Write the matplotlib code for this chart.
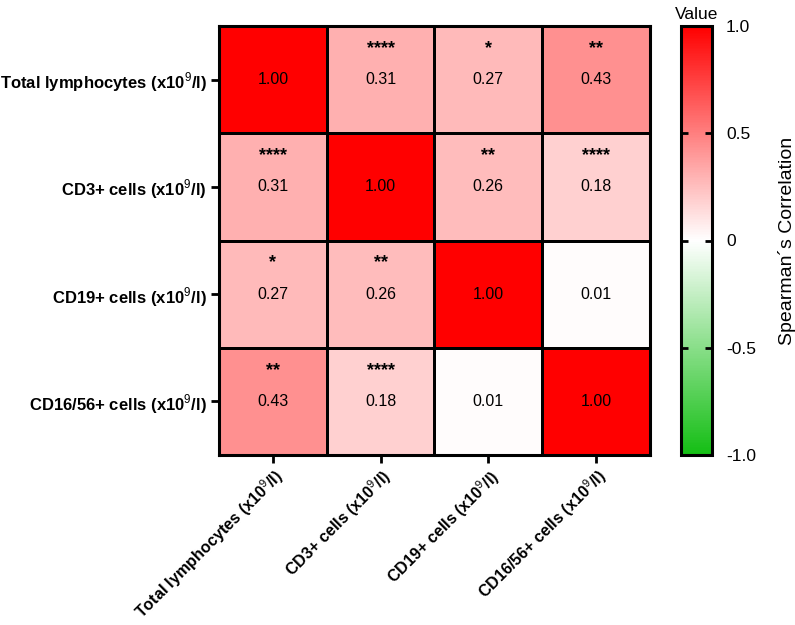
import numpy as np
import matplotlib.pyplot as plt
from matplotlib.colors import LinearSegmentedColormap

plt.rcParams['font.family'] = ['Liberation Sans', 'DejaVu Sans']
plt.rcParams['mathtext.fontset'] = 'custom'
plt.rcParams['mathtext.rm'] = 'Liberation Sans'
plt.rcParams['mathtext.bf'] = 'Liberation Sans:bold'

# Datos
etiquetas = ['Total lymphocytes', 'CD3+ cells', 'CD19+ cells', 'CD16/56+ cells']
corr = np.array([[1.00, 0.31, 0.27, 0.43],
                 [0.31, 1.00, 0.26, 0.18],
                 [0.27, 0.26, 1.00, 0.01],
                 [0.43, 0.18, 0.01, 1.00]])
estrellas = [['', '****', '*', '**'],
             ['****', '', '**', '****'],
             ['*', '**', '', ''],
             ['**', '****', '', '']]
cbar_ticks = [1.0, 0.5, 0, -0.5, -1.0]
cbar_labels = ['1.0', '0.5', '0', '-0.5', '-1.0']

cmap = LinearSegmentedColormap.from_list('gwr', ['#14BE14', '#FFFFFF', '#FF0000'])

fig = plt.figure(figsize=(7.95, 6.25), dpi=100)
ax = fig.add_axes([0.2755, 0.272, 0.542, 0.6864])
cax = fig.add_axes([0.8566, 0.272, 0.039, 0.6864])

n = len(etiquetas)
im = ax.pcolormesh(np.arange(n + 1), np.arange(n + 1), corr, cmap=cmap,
                   vmin=-1, vmax=1, edgecolor='black', linewidth=0.8)
ax.set_xlim(0, n)
ax.set_ylim(n, 0)

for i in range(n):
    for j in range(n):
        ax.text(j + 0.5, i + 0.5, f'{corr[i, j]:.2f}', ha='center', va='center',
                fontsize=11.5)
        if estrellas[i][j]:
            ax.text(j + 0.5, i + 0.21, estrellas[i][j], ha='center', va='center',
                    fontsize=13, fontweight='bold')

nombres = [e + r' (x10$^{9}$/l)' for e in etiquetas]
ax.set_xticks(np.arange(n) + 0.5)
ax.set_yticks(np.arange(n) + 0.5)
ax.set_xticklabels(nombres, rotation=45, ha='right', rotation_mode='anchor',
                   fontsize=11.6, fontweight='bold')
ax.set_yticklabels(nombres, fontsize=12, fontweight='bold')
ax.tick_params(length=6, width=2, pad=3)
ax.tick_params(axis='x', pad=2)
for s in ax.spines.values():
    s.set_linewidth(2.2)

cb = fig.colorbar(im, cax=cax, ticks=cbar_ticks)
cb.set_ticklabels(cbar_labels)
cb.outline.set_linewidth(2.2)
cax.tick_params(direction='in', length=5, width=2, labelsize=12.5, pad=10,
                left=True, right=True)
cb.set_label('Spearman´s Correlation', fontsize=14, labelpad=16)
cax.set_title('Value', fontsize=12.5, pad=5)

plt.savefig('out.png', dpi=100)
